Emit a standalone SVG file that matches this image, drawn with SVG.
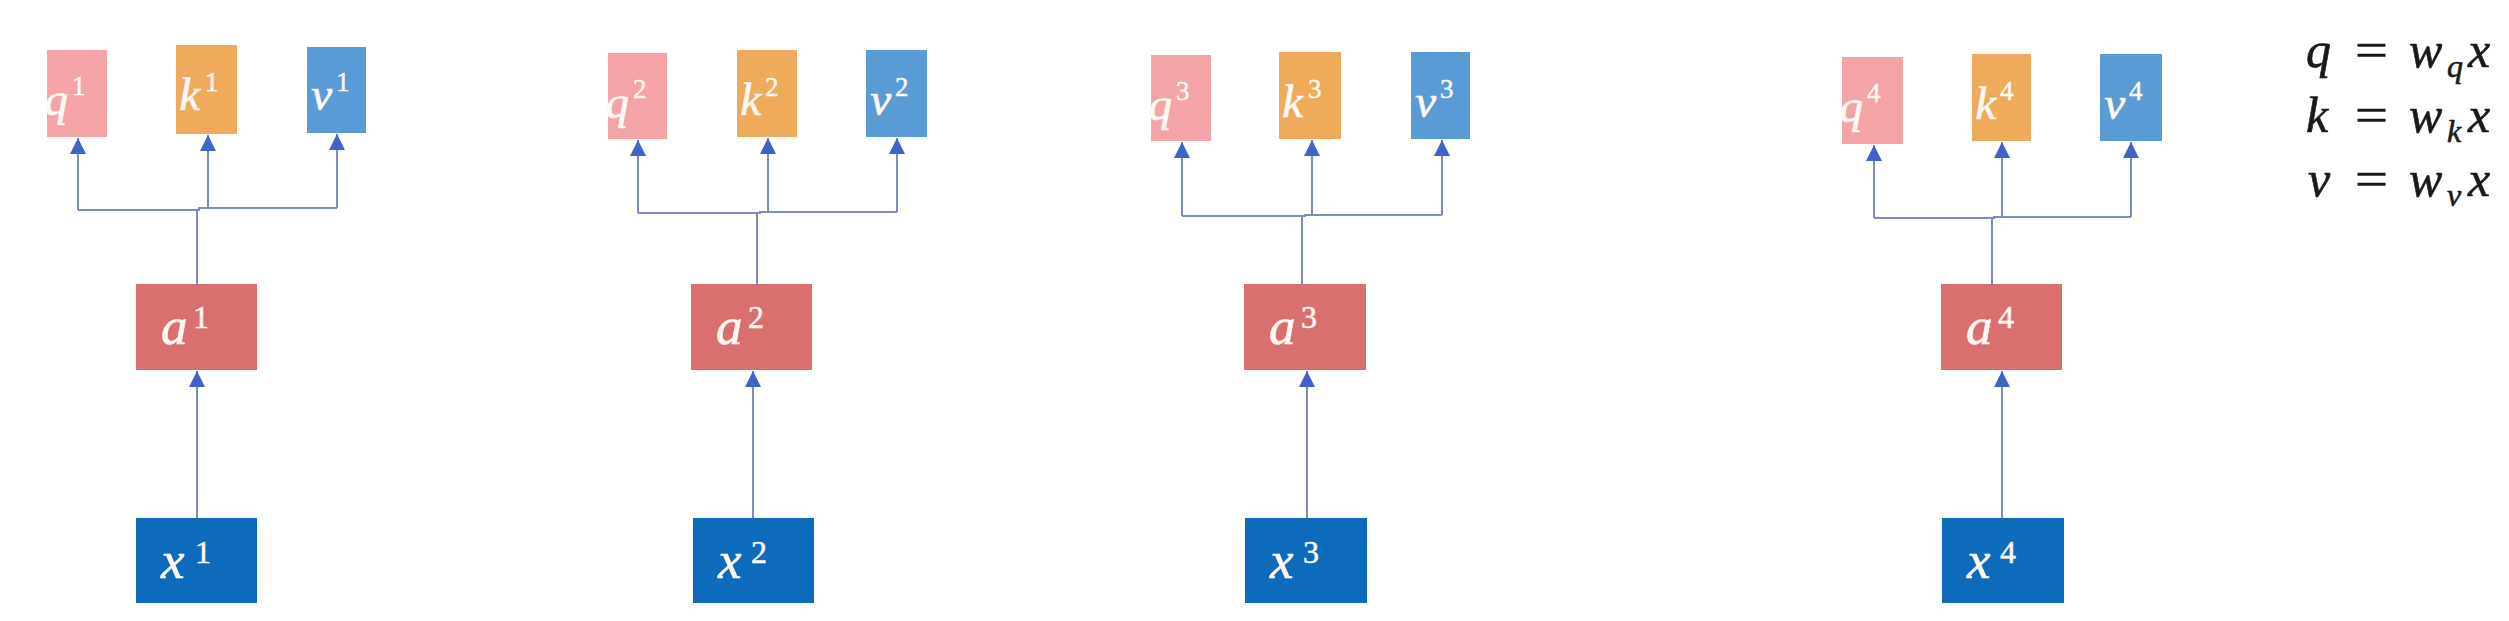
<svg xmlns="http://www.w3.org/2000/svg" width="2509" height="621" viewBox="0 0 2509 621">
<style>
.q{fill:#F4A3A6}.k{fill:#EFAA5C}.v{fill:#5B9BD5}.a{fill:#D9706F}.x{fill:#0E6BBC}
.m{font-family:'Liberation Serif',serif;font-style:italic;fill:#fdf8f4;stroke:#fdf8f4;stroke-width:0.7}
.s{font-family:'Liberation Serif',serif;fill:#fdf8f4;stroke:#fdf8f4;stroke-width:0.5}
.tm{font-size:47px;text-anchor:end}.ts{font-size:27px}
.bm{font-size:53px}.bs{font-size:32px}
.ln{fill:none;stroke:#7C8CC0;stroke-width:2}
.f{font-family:'Liberation Serif',serif;font-size:50px;fill:#1a1a1a;stroke:#1a1a1a;stroke-width:0.6}
.fi{font-style:italic}.sub{font-size:32px;font-style:italic}
</style>
<defs>
<marker id="ah" markerUnits="userSpaceOnUse" markerWidth="16" markerHeight="16" refX="16" refY="8" orient="auto" viewBox="0 0 16 16">
<path d="M0,0 L16,8 L0,16 z" fill="#3F63C6"/>
</marker>
</defs>
<g id="connectors">
<path class="ln" d="M78,210 H199 V208 H337"/>
<path class="ln" d="M78,210 V138" marker-end="url(#ah)"/>
<path class="ln" d="M208,208 V135" marker-end="url(#ah)"/>
<path class="ln" d="M337,208 V134" marker-end="url(#ah)"/>
<path class="ln" d="M197,284 V210"/>
<path class="ln" d="M197,518 V371" marker-end="url(#ah)"/>
<path class="ln" d="M638,213 H760 V212 H897"/>
<path class="ln" d="M638,213 V140" marker-end="url(#ah)"/>
<path class="ln" d="M768,212 V138" marker-end="url(#ah)"/>
<path class="ln" d="M897,212 V138" marker-end="url(#ah)"/>
<path class="ln" d="M757,284 V213"/>
<path class="ln" d="M753,518 V371" marker-end="url(#ah)"/>
<path class="ln" d="M1182,216 H1305 V215 H1442"/>
<path class="ln" d="M1182,216 V142" marker-end="url(#ah)"/>
<path class="ln" d="M1312,215 V140" marker-end="url(#ah)"/>
<path class="ln" d="M1442,215 V140" marker-end="url(#ah)"/>
<path class="ln" d="M1302,284 V216"/>
<path class="ln" d="M1307,518 V371" marker-end="url(#ah)"/>
<path class="ln" d="M1874,218 H1994 V217 H2131"/>
<path class="ln" d="M1874,218 V145" marker-end="url(#ah)"/>
<path class="ln" d="M2002,217 V142" marker-end="url(#ah)"/>
<path class="ln" d="M2131,217 V142" marker-end="url(#ah)"/>
<path class="ln" d="M1992,284 V218"/>
<path class="ln" d="M2002,518 V371" marker-end="url(#ah)"/>
</g>
<g id="q1"><rect class="q" x="47" y="50" width="60" height="87"/><text class="m tm" x="68" y="115">q</text><text class="s ts" x="72" y="95">1</text></g>
<g id="k1"><rect class="k" x="176" y="45" width="61" height="89"/><text class="m tm" x="200" y="110">k</text><text class="s ts" x="205" y="91">1</text></g>
<g id="v1"><rect class="v" x="307" y="47" width="59" height="86"/><text class="m tm" x="332" y="110">v</text><text class="s ts" x="336" y="91">1</text></g>
<g id="a1"><rect class="a" x="136" y="284" width="121" height="86"/><text class="m bm" x="161" y="344">a</text><text class="s bs" x="193" y="328">1</text></g>
<g id="x1"><rect class="x" x="136" y="518" width="121" height="85"/><text class="m bm" x="161" y="578">x</text><text class="s bs" x="195" y="563">1</text></g>
<g id="q2"><rect class="q" x="608" y="53" width="59" height="86"/><text class="m tm" x="629" y="118">q</text><text class="s ts" x="633" y="98">2</text></g>
<g id="k2"><rect class="k" x="737" y="50" width="60" height="87"/><text class="m tm" x="761" y="115">k</text><text class="s ts" x="765" y="96">2</text></g>
<g id="v2"><rect class="v" x="866" y="50" width="61" height="87"/><text class="m tm" x="891" y="115">v</text><text class="s ts" x="895" y="96">2</text></g>
<g id="a2"><rect class="a" x="691" y="284" width="121" height="86"/><text class="m bm" x="716" y="344">a</text><text class="s bs" x="748" y="328">2</text></g>
<g id="x2"><rect class="x" x="693" y="518" width="121" height="85"/><text class="m bm" x="718" y="578">x</text><text class="s bs" x="751" y="563">2</text></g>
<g id="q3"><rect class="q" x="1151" y="55" width="60" height="86"/><text class="m tm" x="1172" y="120">q</text><text class="s ts" x="1176" y="100">3</text></g>
<g id="k3"><rect class="k" x="1279" y="52" width="62" height="87"/><text class="m tm" x="1303" y="117">k</text><text class="s ts" x="1308" y="98">3</text></g>
<g id="v3"><rect class="v" x="1411" y="52" width="59" height="87"/><text class="m tm" x="1436" y="117">v</text><text class="s ts" x="1440" y="98">3</text></g>
<g id="a3"><rect class="a" x="1244" y="284" width="122" height="86"/><text class="m bm" x="1269" y="344">a</text><text class="s bs" x="1301" y="328">3</text></g>
<g id="x3"><rect class="x" x="1245" y="518" width="122" height="85"/><text class="m bm" x="1270" y="578">x</text><text class="s bs" x="1303" y="563">3</text></g>
<g id="q4"><rect class="q" x="1842" y="57" width="61" height="87"/><text class="m tm" x="1863" y="122">q</text><text class="s ts" x="1867" y="102">4</text></g>
<g id="k4"><rect class="k" x="1972" y="54" width="59" height="87"/><text class="m tm" x="1996" y="119">k</text><text class="s ts" x="2000" y="100">4</text></g>
<g id="v4"><rect class="v" x="2100" y="54" width="62" height="87"/><text class="m tm" x="2125" y="119">v</text><text class="s ts" x="2129" y="100">4</text></g>
<g id="a4"><rect class="a" x="1941" y="284" width="121" height="86"/><text class="m bm" x="1966" y="344">a</text><text class="s bs" x="1998" y="328">4</text></g>
<g id="x4"><rect class="x" x="1942" y="518" width="122" height="85"/><text class="m bm" x="1967" y="578">x</text><text class="s bs" x="2000" y="563">4</text></g>
<g id="formulas">
<text class="f fi" x="2306" y="67">q</text><text class="f" x="2355" y="67" textLength="33" lengthAdjust="spacingAndGlyphs">=</text><text class="f fi" x="2409" y="67">w</text><text class="f sub" x="2447" y="77">q</text><text class="f fi" x="2468" y="67">x</text>
<text class="f fi" x="2306" y="132">k</text><text class="f" x="2355" y="132" textLength="33" lengthAdjust="spacingAndGlyphs">=</text><text class="f fi" x="2409" y="132">w</text><text class="f sub" x="2447" y="142">k</text><text class="f fi" x="2468" y="132">x</text>
<text class="f fi" x="2308" y="196">v</text><text class="f" x="2355" y="196" textLength="33" lengthAdjust="spacingAndGlyphs">=</text><text class="f fi" x="2409" y="196">w</text><text class="f sub" x="2447" y="206">v</text><text class="f fi" x="2468" y="196">x</text>
</g>
</svg>
